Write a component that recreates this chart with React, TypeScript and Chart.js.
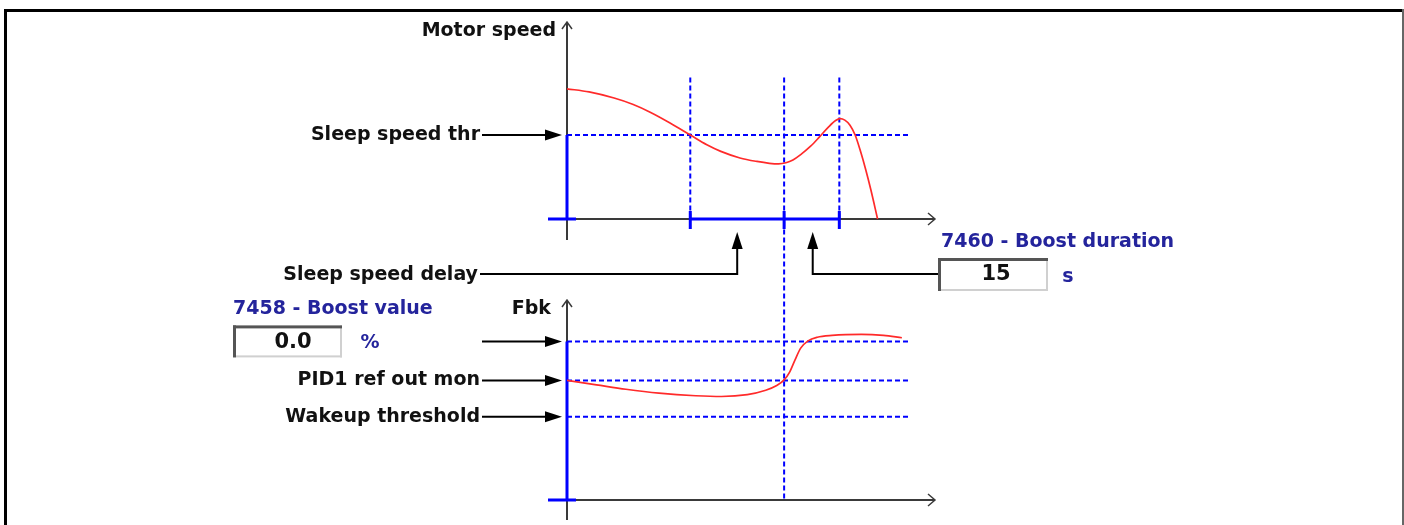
import React, { useEffect, useRef } from 'react';
import { Chart, registerables } from 'chart.js';

Chart.register(...registerables);

const W = 1404;
const H = 525;

// ---- data (time in s, speed in %, feedback in %) ----
const markerTimes = [33.5, 59, 74]; // sleep-delay start, boost start, boost end
const markerTop = 101; // speed value where marker lines start
const levelLineEnd = 93.2; // time where the dashed level lines end

const speedTime = [0, 6, 12.8, 18, 22.6, 28, 33.5, 38, 41.8, 47, 51.6, 55, 57.5, 59.5, 61.4, 63.5, 66.2, 68.5, 71.1, 73, 74.2, 75.5, 76.9, 78.3, 79.8, 81.2, 82.6, 84.4];
const speedValues = [93, 90.8, 86.4, 81.8, 76.3, 68.6, 60, 53, 48.3, 43.6, 41.1, 39.8, 39.4, 40.2, 42.2, 46, 52, 58.3, 65.8, 70.3, 71.7, 70.6, 67, 60, 48, 35, 20.5, 0];

const fbkTime = [0, 8, 16, 25, 35, 42, 49, 54, 57, 59, 60.5, 62, 63.5, 65.5, 68, 72, 80, 86, 91];
const fbkValues = [46, 44.3, 42.6, 41.1, 40.1, 39.8, 40.5, 42.2, 44, 46.2, 49.2, 54, 58.4, 61.2, 62.6, 63.3, 63.7, 63.3, 62.4];

const sleepSpeedThr = 60;
const boostLevel = 61;
const pidRefLevel = 46;
const wakeupLevel = 32;

const speedAxisLabel = 'Motor speed';
const fbkAxisLabel = 'Fbk';
const leftLabels = ['Sleep speed thr', 'PID1 ref out mon', 'Wakeup threshold'];
const sleepDelayLabel = 'Sleep speed delay';
const boostDurationLabel = '7460 - Boost duration';
const boostDurationValue = '15';
const boostDurationUnit = 's';
const boostValueLabel = '7458 - Boost value';
const boostValueValue = '0.0';
const boostValueUnit = '%';

// ---- layout ----
const AREA = { left: 567, right: 935, top: 22, bottom: 500 };
const SPEED_ZERO_PX = 219;
const SPEED_PX_PER_UNIT = 1.4;
const FBK_ZERO_PX = 500;
const FBK_PX_PER_UNIT = 2.6;

const BLUE = '#0000ff';
const RED = '#ff2a2a';
const AXIS = '#3a3a3a';
const TEXT = '#111111';
const NAVY = '#24249c';
const FONT = '"DejaVu Sans", Verdana, sans-serif';

const toPts = (xs: number[], ys: number[]) => xs.map((x, i) => ({ x, y: ys[i] }));
const hLine = (v: number) => [{ x: 0, y: v }, { x: levelLineEnd, y: v }];

function arrowRight(ctx: CanvasRenderingContext2D, x0: number, tipX: number, y: number) {
  ctx.strokeStyle = '#000';
  ctx.lineWidth = 2;
  ctx.beginPath();
  ctx.moveTo(x0, y);
  ctx.lineTo(tipX - 14, y);
  ctx.stroke();
  ctx.fillStyle = '#000';
  ctx.beginPath();
  ctx.moveTo(tipX, y);
  ctx.lineTo(tipX - 17, y - 5.5);
  ctx.lineTo(tipX - 17, y + 5.5);
  ctx.closePath();
  ctx.fill();
}

function arrowUpElbow(ctx: CanvasRenderingContext2D, x0: number, y: number, xUp: number, tipY: number) {
  ctx.strokeStyle = '#000';
  ctx.lineWidth = 2;
  ctx.beginPath();
  ctx.moveTo(x0, y);
  ctx.lineTo(xUp, y);
  ctx.lineTo(xUp, tipY + 14);
  ctx.stroke();
  ctx.fillStyle = '#000';
  ctx.beginPath();
  ctx.moveTo(xUp, tipY);
  ctx.lineTo(xUp - 5.5, tipY + 17);
  ctx.lineTo(xUp + 5.5, tipY + 17);
  ctx.closePath();
  ctx.fill();
}

function sunkenBox(ctx: CanvasRenderingContext2D, x: number, y: number, w: number, h: number) {
  ctx.fillStyle = '#fff';
  ctx.fillRect(x, y, w, h);
  ctx.fillStyle = '#d0d0d0';
  ctx.fillRect(x, y + h - 2, w, 2);
  ctx.fillRect(x + w - 2, y, 2, h);
  ctx.fillStyle = '#555';
  ctx.fillRect(x, y, w, 3);
  ctx.fillRect(x, y, 3, h);
}

function text(ctx: CanvasRenderingContext2D, s: string, x: number, y: number, align: CanvasTextAlign, color: string, font: string) {
  ctx.fillStyle = color;
  ctx.font = font;
  ctx.textAlign = align;
  ctx.textBaseline = 'middle';
  ctx.fillText(s, x, y);
}

function axesPair(ctx: CanvasRenderingContext2D, ox: number, oy: number, topY: number, bottomY: number, leftX: number, rightX: number, blueTopY: number) {
  ctx.strokeStyle = AXIS;
  ctx.lineWidth = 2;
  ctx.beginPath();
  ctx.moveTo(ox, bottomY);
  ctx.lineTo(ox, topY);
  ctx.moveTo(leftX, oy);
  ctx.lineTo(rightX, oy);
  ctx.stroke();
  ctx.lineWidth = 1.5;
  ctx.beginPath();
  ctx.moveTo(ox - 5, topY + 7);
  ctx.lineTo(ox, topY);
  ctx.lineTo(ox + 5, topY + 7);
  ctx.moveTo(rightX - 7, oy - 6);
  ctx.lineTo(rightX, oy);
  ctx.lineTo(rightX - 7, oy + 6);
  ctx.stroke();
  ctx.strokeStyle = BLUE;
  ctx.lineWidth = 3;
  ctx.beginPath();
  ctx.moveTo(ox, blueTopY);
  ctx.lineTo(ox, oy);
  ctx.moveTo(leftX, oy);
  ctx.lineTo(ox + 9, oy);
  ctx.stroke();
}

const diagramPlugin = {
  id: 'diagram',
  beforeDatasetsDraw(chart: any) {
    const { ctx, scales } = chart;
    const x = scales.x;
    const yS = scales.yS;
    const yF = scales.yF;
    ctx.save();
    // window frame
    ctx.fillStyle = '#000';
    ctx.fillRect(4, 9, 1400, 3);
    ctx.fillRect(4, 9, 3, H - 9);
    ctx.fillStyle = '#666';
    ctx.fillRect(1402, 9, 2, H - 9);

    const ox = x.getPixelForValue(0);
    const sy0 = yS.getPixelForValue(0);
    const fy0 = yF.getPixelForValue(0);
    axesPair(ctx, ox, sy0, AREA.top, sy0 + 21, ox - 19, AREA.right, yS.getPixelForValue(sleepSpeedThr));
    axesPair(ctx, ox, fy0, fy0 - 200, fy0 + 20, ox - 19, AREA.right, yF.getPixelForValue(boostLevel));

    // marker lines
    const mx = markerTimes.map((t) => x.getPixelForValue(t));
    ctx.strokeStyle = BLUE;
    ctx.lineWidth = 2;
    ctx.setLineDash([5, 3]);
    mx.forEach((px, i) => {
      ctx.beginPath();
      ctx.moveTo(px, yS.getPixelForValue(markerTop));
      ctx.lineTo(px, i === 1 ? fy0 : sy0);
      ctx.stroke();
    });
    ctx.setLineDash([]);
    ctx.lineWidth = 3;
    ctx.beginPath();
    ctx.moveTo(mx[0], sy0);
    ctx.lineTo(mx[2], sy0);
    mx.forEach((px) => {
      ctx.moveTo(px, sy0 - 8);
      ctx.lineTo(px, sy0 + 10);
    });
    ctx.stroke();
    ctx.restore();
  },
  afterDatasetsDraw(chart: any) {
    const { ctx, scales } = chart;
    const x = scales.x;
    const yS = scales.yS;
    const yF = scales.yF;
    ctx.save();
    const ox = x.getPixelForValue(0);
    const bold = `bold 19px ${FONT}`;
    const labelRight = 480;
    const tip = ox - 5;

    text(ctx, speedAxisLabel, ox - 11, AREA.top + 9, 'right', TEXT, bold);
    text(ctx, fbkAxisLabel, ox - 16, yF.getPixelForValue(0) - 191, 'right', TEXT, bold);

    const thrY = yS.getPixelForValue(sleepSpeedThr);
    text(ctx, leftLabels[0], labelRight, thrY, 'right', TEXT, bold);
    arrowRight(ctx, labelRight + 2, tip, thrY);

    const lv = [boostLevel, pidRefLevel, wakeupLevel].map((v) => yF.getPixelForValue(v));
    arrowRight(ctx, labelRight + 2, tip, lv[0]);
    text(ctx, leftLabels[1], labelRight, lv[1], 'right', TEXT, bold);
    arrowRight(ctx, labelRight + 2, tip, lv[1]);
    text(ctx, leftLabels[2], labelRight, lv[2], 'right', TEXT, bold);
    arrowRight(ctx, labelRight + 2, tip, lv[2]);

    // delay / duration pointers
    const mx = markerTimes.map((t) => x.getPixelForValue(t));
    const sy0 = yS.getPixelForValue(0);
    const rowY = sy0 + 55;
    text(ctx, sleepDelayLabel, labelRight - 2, rowY + 1, 'right', TEXT, bold);
    arrowUpElbow(ctx, labelRight, rowY, (mx[0] + mx[1]) / 2, sy0 + 13);

    const boxX = 938;
    arrowUpElbow(ctx, boxX, rowY, (mx[1] + mx[2]) / 2 + 1, sy0 + 13);
    text(ctx, boostDurationLabel, boxX + 3, rowY - 32, 'left', NAVY, bold);
    sunkenBox(ctx, boxX, rowY - 16, 110, 33);
    text(ctx, boostDurationValue, boxX + 58, rowY + 1, 'center', '#111', `bold 21px ${FONT}`);
    text(ctx, boostDurationUnit, boxX + 130, rowY + 3, 'center', NAVY, bold);

    const bx = 233;
    const by = lv[0];
    text(ctx, boostValueLabel, bx, by - 32, 'left', NAVY, bold);
    sunkenBox(ctx, bx, by - 16, 109, 32);
    text(ctx, boostValueValue, bx + 60, by + 1, 'center', '#111', `bold 21px ${FONT}`);
    text(ctx, boostValueUnit, bx + 137, by + 2, 'center', NAVY, bold);
    ctx.restore();
  },
};

export default function App() {
  const ref = useRef<HTMLCanvasElement>(null);
  useEffect(() => {
    const levelStyle = {
      borderColor: BLUE,
      borderWidth: 2,
      borderDash: [5, 3],
      pointRadius: 0,
      fill: false,
    };
    const speedMin = (SPEED_ZERO_PX - AREA.bottom) / SPEED_PX_PER_UNIT;
    const speedMax = (SPEED_ZERO_PX - AREA.top) / SPEED_PX_PER_UNIT;
    const fbkMin = (FBK_ZERO_PX - AREA.bottom) / FBK_PX_PER_UNIT;
    const fbkMax = (FBK_ZERO_PX - AREA.top) / FBK_PX_PER_UNIT;
    const curve = {
      borderColor: RED,
      borderWidth: 1.7,
      pointRadius: 0,
      cubicInterpolationMode: 'monotone',
      fill: false,
    };
    const chart = new Chart(ref.current as HTMLCanvasElement, {
      type: 'line',
      data: {
        datasets: [
          { data: toPts(speedTime, speedValues), yAxisID: 'yS', ...curve },
          { data: toPts(fbkTime, fbkValues), yAxisID: 'yF', ...curve },
          { data: hLine(sleepSpeedThr), yAxisID: 'yS', ...levelStyle },
          { data: hLine(boostLevel), yAxisID: 'yF', ...levelStyle },
          { data: hLine(pidRefLevel), yAxisID: 'yF', ...levelStyle },
          { data: hLine(wakeupLevel), yAxisID: 'yF', ...levelStyle },
        ],
      },
      options: {
        animation: false,
        responsive: false,
        events: [],
        layout: {
          padding: { left: AREA.left, right: W - AREA.right, top: AREA.top, bottom: H - AREA.bottom },
        },
        plugins: { legend: { display: false }, tooltip: { enabled: false }, title: { display: false } },
        scales: {
          x: { type: 'linear', min: 0, max: 100, display: false },
          yS: { type: 'linear', min: speedMin, max: speedMax, display: false },
          yF: { type: 'linear', min: fbkMin, max: fbkMax, display: false },
        },
      } as any,
      plugins: [diagramPlugin],
    });
    return () => chart.destroy();
  }, []);
  return (
    <div style={{ position: 'fixed', left: 0, top: 0, width: W, height: H, background: '#fff' }}>
      <canvas ref={ref} width={W} height={H} style={{ width: W, height: H, display: 'block' }} />
    </div>
  );
}
